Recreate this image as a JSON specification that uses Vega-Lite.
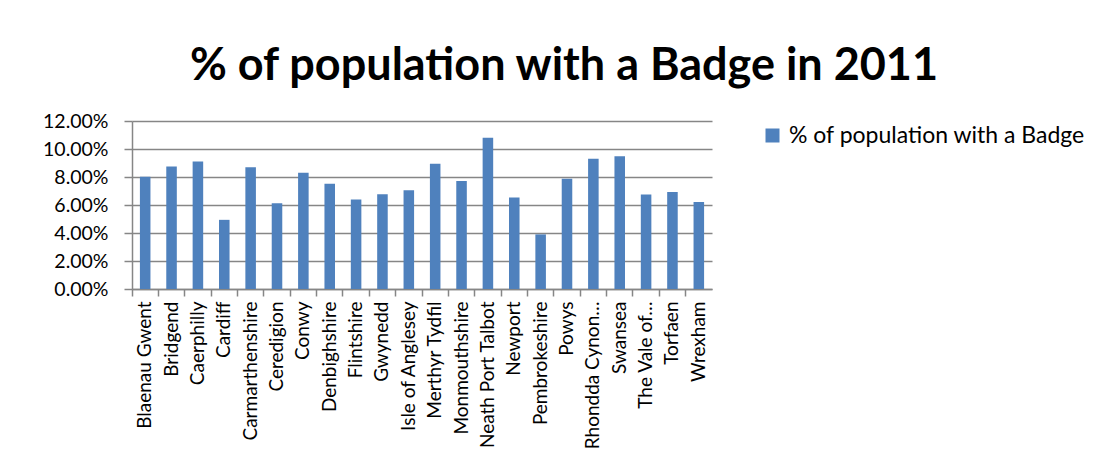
{
  "$schema": "https://vega.github.io/schema/vega-lite/v6.json",
  "autosize": "none",
  "width": 580,
  "height": 168,
  "padding": {"left": 132, "top": 121, "right": 393, "bottom": 179},
  "background": "white",
  "config": {"view": {"stroke": null}, "font": "Lato"},
  "title": {
    "text": "% of population with a Badge in 2011",
    "font": "Lato",
    "fontSize": 45,
    "fontWeight": "bold",
    "color": "black",
    "anchor": "middle",
    "frame": "group",
    "dx": 142,
    "offset": 22
  },
  "data": {
    "values": [
      {"area": "Blaenau Gwent", "pct": 0.0802},
      {"area": "Bridgend", "pct": 0.0875},
      {"area": "Caerphilly", "pct": 0.0911},
      {"area": "Cardiff", "pct": 0.0494},
      {"area": "Carmarthenshire", "pct": 0.0870},
      {"area": "Ceredigion", "pct": 0.0612},
      {"area": "Conwy", "pct": 0.0831},
      {"area": "Denbighshire", "pct": 0.0752},
      {"area": "Flintshire", "pct": 0.0639},
      {"area": "Gwynedd", "pct": 0.0677},
      {"area": "Isle of Anglesey", "pct": 0.0706},
      {"area": "Merthyr Tydfil", "pct": 0.0894},
      {"area": "Monmouthshire", "pct": 0.0771},
      {"area": "Neath Port Talbot", "pct": 0.1080},
      {"area": "Newport", "pct": 0.0653},
      {"area": "Pembrokeshire", "pct": 0.0390},
      {"area": "Powys", "pct": 0.0788},
      {"area": "Rhondda Cynon Taf", "pct": 0.0930},
      {"area": "Swansea", "pct": 0.0949},
      {"area": "The Vale of Glamorgan", "pct": 0.0675},
      {"area": "Torfaen", "pct": 0.0692},
      {"area": "Wrexham", "pct": 0.0622}
    ]
  },
  "mark": {"type": "bar", "color": "#4F81BD", "width": {"band": 0.4}},
  "encoding": {
    "x": {
      "field": "area",
      "type": "nominal",
      "sort": null,
      "scale": {"paddingInner": 0, "paddingOuter": 0},
      "axis": {
        "title": null,
        "labelAngle": -90,
        "labelAlign": "right",
        "labelBaseline": "middle",
        "labelFont": "Lato",
        "labelFontSize": 19,
        "labelColor": "black",
        "labelPadding": 5,
        "labelLimit": 300,
        "labelExpr": "datum.label == 'Rhondda Cynon Taf' ? 'Rhondda Cynon…' : datum.label == 'The Vale of Glamorgan' ? 'The Vale of…' : datum.label",
        "bandPosition": 0,
        "tickSize": 7,
        "tickColor": "#868686",
        "tickWidth": 1.5,
        "domainColor": "#868686",
        "domainWidth": 1.5,
        "grid": false
      }
    },
    "y": {
      "field": "pct",
      "type": "quantitative",
      "scale": {"domain": [0, 0.12], "nice": false},
      "axis": {
        "title": null,
        "values": [0, 0.02, 0.04, 0.06, 0.08, 0.1, 0.12],
        "format": ".2%",
        "labelFont": "Lato",
        "labelFontSize": 19.5,
        "labelColor": "black",
        "labelPadding": 16,
        "tickSize": 8,
        "tickColor": "#868686",
        "tickWidth": 1.5,
        "domainColor": "#868686",
        "domainWidth": 1.5,
        "grid": true,
        "gridColor": "#868686",
        "gridWidth": 1.5
      }
    },
    "color": {
      "datum": "% of population with a Badge",
      "type": "nominal",
      "scale": {"range": ["#4F81BD"]},
      "legend": {
        "title": null,
        "orient": "none",
        "legendX": 629,
        "legendY": 3,
        "symbolType": "square",
        "symbolSize": 196,
        "symbolStrokeWidth": 0,
        "labelFont": "Lato",
        "labelFontSize": 23,
        "labelColor": "black",
        "labelLimit": 400,
        "labelOffset": 5
      }
    }
  }
}
